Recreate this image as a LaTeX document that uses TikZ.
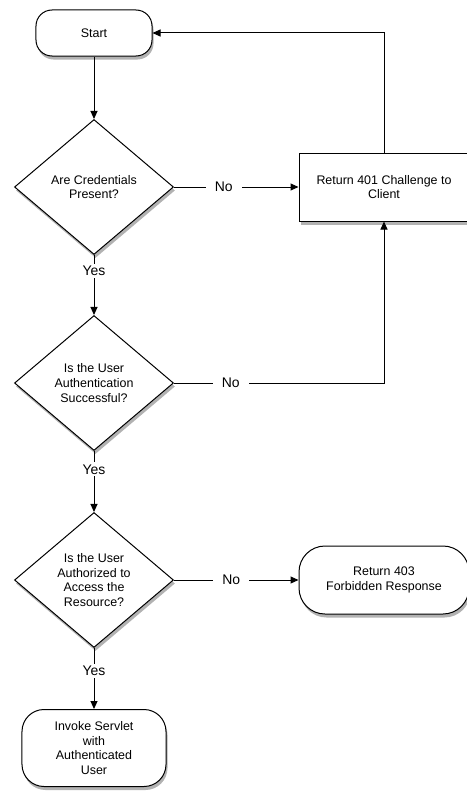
\documentclass[tikz,border=0pt]{standalone}
\usepackage{fontspec}
\setmainfont{Liberation Sans}
\usepackage{tikz}
\usetikzlibrary{arrows.meta,shapes.geometric,shadows}

\begin{document}
\begin{tikzpicture}[->,>={Triangle[length=8bp,width=7bp]},line width=1bp,x=1bp,y=-1bp,
   font=\fontsize{12.5}{14.8}\selectfont,
   shade/.style={drop shadow={shadow xshift=1.5bp,shadow yshift=-3.5bp,fill=black!55,opacity=.55}},
   term/.style={draw,fill=white,rounded corners=#1,align=center,shade},
   term/.default=16bp,
   decision/.style={draw,diamond,fill=white,align=center,inner sep=0pt,
      minimum width=159bp,minimum height=135bp,shade},
   action/.style={draw,fill=white,align=center,minimum width=170bp,
      minimum height=68bp,shade},
   lbl/.style={fill=white,font=\fontsize{14}{16}\selectfont,inner xsep=9bp,inner ysep=2bp}]
  \useasboundingbox (0,0) rectangle (467,792);
  \node[term, minimum width=116bp, minimum height=46bp] (start) at (94,33) {Start};
  \node[decision] (cred) at (94,187) {Are Credentials\\Present?};
  \node[decision] (authn) at (94,383) {Is the User\\Authentication\\Successful?};
  \node[decision] (authz) at (94,580) {Is the User\\Authorized to\\Access the\\Resource?};
  \node[term=22bp, minimum width=144bp, minimum height=77bp] (invoke) at (94,748) {Invoke Servlet\\with\\Authenticated\\User};
  \node[action] (r401) at (384,187) {Return 401 Challenge to\\Client};
  \node[term=26bp, minimum width=170bp, minimum height=68bp] (r403) at (384,580) {Return 403\\Forbidden Response};
  % yes branches
  \path (start) edge (cred);
  \path (cred) edge node[lbl,pos=.27] {Yes} (authn);
  \path (authn) edge node[lbl,pos=.3] {Yes} (authz);
  \path (authz) edge node[lbl,pos=.38] {Yes} (invoke);
  % no branches
  \path (cred) edge node[lbl,pos=.4] {No} (r401);
  \path (authz) edge node[lbl,pos=.46] {No} (r403);
  \draw (authn.east) -- node[lbl,pos=.27] {No} (authn.east -| r401.south) -- (r401.south);
  \draw (r401.north) |- (start.east);
\end{tikzpicture}
\end{document}
